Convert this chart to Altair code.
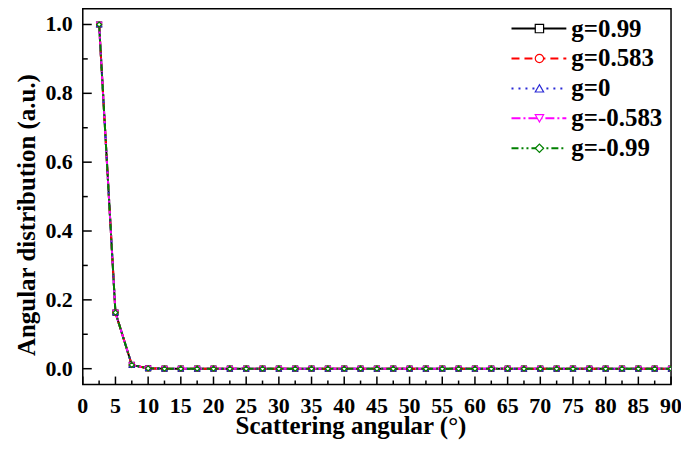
import altair as alt
import pandas as pd

FONT = "Liberation Serif"

# ---- data ----
angles = [2.5, 5, 7.5, 10, 12.5, 15, 17.5, 20, 22.5, 25, 27.5, 30, 32.5, 35,
          37.5, 40, 42.5, 45, 47.5, 50, 52.5, 55, 57.5, 60, 62.5, 65, 67.5, 70,
          72.5, 75, 77.5, 80, 82.5, 85, 87.5, 90]

g_099 = [1.0, 0.163, 0.011, 0.001, 0.0, 0.0, 0.0, 0.0, 0.0, 0.0, 0.0, 0.0,
         0.0, 0.0, 0.0, 0.0, 0.0, 0.0, 0.0, 0.0, 0.0, 0.0, 0.0, 0.0,
         0.0, 0.0, 0.0, 0.0, 0.0, 0.0, 0.0, 0.0, 0.0, 0.0, 0.0, 0.0]
g_0583 = [1.0, 0.163, 0.011, 0.001, 0.0, 0.0, 0.0, 0.0, 0.0, 0.0, 0.0, 0.0,
          0.0, 0.0, 0.0, 0.0, 0.0, 0.0, 0.0, 0.0, 0.0, 0.0, 0.0, 0.0,
          0.0, 0.0, 0.0, 0.0, 0.0, 0.0, 0.0, 0.0, 0.0, 0.0, 0.0, 0.0]
g_0 = [1.0, 0.163, 0.011, 0.001, 0.0, 0.0, 0.0, 0.0, 0.0, 0.0, 0.0, 0.0,
       0.0, 0.0, 0.0, 0.0, 0.0, 0.0, 0.0, 0.0, 0.0, 0.0, 0.0, 0.0,
       0.0, 0.0, 0.0, 0.0, 0.0, 0.0, 0.0, 0.0, 0.0, 0.0, 0.0, 0.0]
g_m0583 = [1.0, 0.163, 0.011, 0.001, 0.0, 0.0, 0.0, 0.0, 0.0, 0.0, 0.0, 0.0,
           0.0, 0.0, 0.0, 0.0, 0.0, 0.0, 0.0, 0.0, 0.0, 0.0, 0.0, 0.0,
           0.0, 0.0, 0.0, 0.0, 0.0, 0.0, 0.0, 0.0, 0.0, 0.0, 0.0, 0.0]
g_m099 = [1.0, 0.163, 0.011, 0.001, 0.0, 0.0, 0.0, 0.0, 0.0, 0.0, 0.0, 0.0,
          0.0, 0.0, 0.0, 0.0, 0.0, 0.0, 0.0, 0.0, 0.0, 0.0, 0.0, 0.0,
          0.0, 0.0, 0.0, 0.0, 0.0, 0.0, 0.0, 0.0, 0.0, 0.0, 0.0, 0.0]

names = ["g=0.99", "g=0.583", "g=0", "g=-0.583", "g=-0.99"]
series_values = [g_099, g_0583, g_0, g_m0583, g_m099]
colors = ["#000000", "#ff0000", "#2a2ad6", "#ff00ff", "#008000"]
dashes = [[1, 0], [8, 5], [2, 5], [9, 3, 2, 3], [7, 3, 2, 3, 2, 3]]
shapes = ["square", "circle", "triangle-up", "triangle-down", "diamond"]
marker_sizes = [25, 25, 25, 25, 100]

x_major = [0, 5, 10, 15, 20, 25, 30, 35, 40, 45, 50, 55, 60, 65, 70, 75, 80, 85, 90]
x_minor = [2.5, 7.5, 12.5, 17.5, 22.5, 27.5, 32.5, 37.5, 42.5, 47.5, 52.5, 57.5,
           62.5, 67.5, 72.5, 77.5, 82.5, 87.5]
y_major = [0.0, 0.2, 0.4, 0.6, 0.8, 1.0]
y_minor = [0.1, 0.3, 0.5, 0.7, 0.9]
x_title = ["Scattering angular (°)"]
y_title = ["Angular distribution (a.u.)"]

# ---- tables ----
rows = []
for name, vals in zip(names, series_values):
    for a, v in zip(angles, vals):
        rows.append({"g": name, "angle": a, "value": v})
df = pd.DataFrame(rows)
leg_df = pd.DataFrame({"g": names})

W, H = 590, 377

x_scale = alt.Scale(domain=[0, 90], nice=False, zero=False)
y_scale = alt.Scale(domain=[-0.046, 1.046], nice=False, zero=False)


def X():
    return alt.X("angle:Q", scale=x_scale, axis=None)


def Y():
    return alt.Y("value:Q", scale=y_scale, axis=None)


color_enc = alt.Color("g:N", scale=alt.Scale(domain=names, range=colors), legend=None)
dash_enc = alt.StrokeDash("g:N", scale=alt.Scale(domain=names, range=dashes), legend=None)
shape_enc = alt.Shape("g:N", scale=alt.Scale(domain=names, range=shapes), legend=None)
size_enc = alt.Size("g:N", scale=alt.Scale(domain=names, range=marker_sizes), legend=None)

base = alt.Chart(df)
lines = base.mark_line(strokeWidth=2, clip=True).encode(
    x=X(), y=Y(), color=color_enc, strokeDash=dash_enc,
    order=alt.Order("angle:Q"))
points = base.mark_point(filled=False, fill="white", fillOpacity=1, opacity=1,
                         strokeWidth=1.2, clip=True).encode(
    x=X(), y=Y(), color=color_enc, shape=shape_enc, size=size_enc)

# inward ticks
xt_major = alt.Chart(pd.DataFrame({"angle": x_major})).mark_rule(
    color="black", strokeWidth=1.5).encode(
    x=X(), y=alt.value(H), y2=alt.value(H - 8))
xt_minor = alt.Chart(pd.DataFrame({"angle": x_minor})).mark_rule(
    color="black", strokeWidth=1.5).encode(
    x=X(), y=alt.value(H), y2=alt.value(H - 4))
yt_major = alt.Chart(pd.DataFrame({"value": y_major})).mark_rule(
    color="black", strokeWidth=1.5).encode(
    y=Y(), x=alt.value(0), x2=alt.value(9))
yt_minor = alt.Chart(pd.DataFrame({"value": y_minor})).mark_rule(
    color="black", strokeWidth=1.5).encode(
    y=Y(), x=alt.value(0), x2=alt.value(5))

# tick labels and axis titles as text marks (serif font)
txt = dict(font=FONT, fontWeight="bold", color="black")
x_labels = alt.Chart(pd.DataFrame({"angle": x_major})).mark_text(
    align="center", baseline="alphabetic", fontSize=22, **txt).encode(
    x=X(), y=alt.value(H + 29), text=alt.Text("angle:Q", format="d"))
y_labels = alt.Chart(pd.DataFrame({"value": y_major})).mark_text(
    align="right", baseline="middle", fontSize=22, **txt).encode(
    y=Y(), x=alt.value(-10), text=alt.Text("value:Q", format=".1f"))
x_title_l = alt.Chart(pd.DataFrame({"t": x_title})).mark_text(
    align="center", baseline="alphabetic", fontSize=25, **txt).encode(
    x=alt.value(269), y=alt.value(H + 50), text="t:N")
y_title_l = alt.Chart(pd.DataFrame({"t": y_title})).mark_text(
    align="center", baseline="middle", angle=270, fontSize=25, **txt).encode(
    x=alt.value(-56), y=alt.value(207), text="t:N")

# legend drawn inside the plot, one row per series
legend_layers = []
for i, name in enumerate(names):
    row = alt.Chart(leg_df).transform_filter(alt.datum.g == name)
    py = 20 + 30 * i
    legend_layers.append(row.mark_rule(strokeWidth=2).encode(
        x=alt.value(430), x2=alt.value(485), y=alt.value(py),
        color=color_enc, strokeDash=dash_enc))
    legend_layers.append(row.mark_point(
        filled=False, fill="white", fillOpacity=1, opacity=1,
        strokeWidth=1.2, size=70).encode(
        x=alt.value(458), y=alt.value(py), color=color_enc, shape=shape_enc))
    legend_layers.append(row.mark_text(
        align="left", baseline="middle", fontSize=25, **txt).encode(
        x=alt.value(490), y=alt.value(py), text="g:N"))

chart = alt.layer(
    lines, points, xt_major, xt_minor, yt_major, yt_minor,
    x_labels, y_labels, x_title_l, y_title_l, *legend_layers
).properties(
    width=W, height=H,
    autosize=alt.AutoSizeParams(type="none"),
    padding={"left": 75, "top": 0, "right": 10, "bottom": 60},
    background="white",
).configure_view(stroke="black", strokeWidth=1.5)

chart.save("out.html", embed_options={"renderer": "svg", "actions": False})
